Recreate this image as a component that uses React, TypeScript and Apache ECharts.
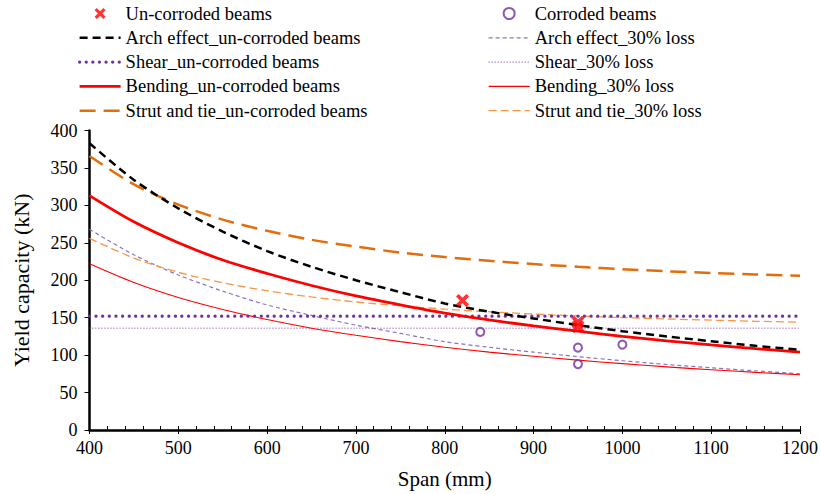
import React, { useEffect, useRef } from "react";
import * as echarts from "echarts";

const spans = [400, 450, 500, 550, 600, 650, 700, 750, 800, 850, 900, 950, 1000, 1050, 1100, 1150, 1200];

const archUncorroded = [383, 334, 296, 265, 239, 218, 200, 184, 169, 158, 149, 140, 132, 125, 118.5, 112.5, 107];
const arch30 = [268, 234, 207, 185.5, 167, 153, 140, 129, 118, 110.5, 104, 98, 92.5, 87.5, 83, 79, 75];
const shearUncorroded = [152, 152, 152, 152, 152, 152, 152, 152, 152, 152, 152, 152, 152, 152, 152, 152, 152];
const shear30 = [136, 136, 136, 136, 136, 136, 136, 136, 136, 136, 136, 136, 136, 136, 136, 136, 136];
const bendingUncorroded = [313, 278, 250, 227, 209, 193, 179, 167, 156, 147, 139, 132, 125, 119, 113.6, 108.7, 104];
const bending30 = [222, 197, 177, 161, 147.5, 136, 126.5, 118, 110.5, 104, 98.5, 93.3, 88.6, 84.3, 80.5, 77, 73.8];
const strutUncorroded = [366, 328, 301, 281, 266, 254, 245, 237, 231, 226, 221.6, 218, 214.8, 212, 209.8, 207.8, 206];
const strut30 = [256, 229.6, 210.6, 196.6, 186, 177.7, 171, 165.8, 161.5, 157.9, 154.9, 152.3, 150.2, 148.3, 146.7, 145.2, 144];

const uncorrodedSpan = [820, 950, 950];
const uncorrodedLoad = [173, 144, 138];
const corrodedSpan = [840, 950, 950, 1000];
const corrodedLoad = [131, 110, 88, 114];

const FONT = "Liberation Serif";
const RED = "#FF0000";
const PURPLE = "#7030A0";
const LPURPLE = "#8A72C0";
const ORANGE = "#E46C0A";
const LORANGE = "#F79646";
const XPATH = "path://M0,2L2,0L5,3L8,0L10,2L7,5L10,8L8,10L5,7L2,10L0,8L3,5Z";

const pair = (xs: number[], ys: number[]) => xs.map((x, i) => [x, ys[i]]);

type LineDef = { name: string; vals: number[]; color: string; width: number; type: any; z: number; cap?: string };

const lineDefs: LineDef[] = [
  { name: "Arch effect_un-corroded beams", vals: archUncorroded, color: "#000", width: 2.5, type: [8, 5], z: 4 },
  { name: "Shear_un-corroded beams", vals: shearUncorroded, color: PURPLE, width: 3.2, type: [0.1, 6.5], z: 3, cap: "round" },
  { name: "Bending_un-corroded beams", vals: bendingUncorroded, color: RED, width: 2.8, type: "solid", z: 3 },
  { name: "Strut and tie_un-corroded beams", vals: strutUncorroded, color: ORANGE, width: 2.5, type: [16, 8], z: 3 },
  { name: "Arch effect_30% loss", vals: arch30, color: LPURPLE, width: 1.2, type: [4, 3], z: 2 },
  { name: "Shear_30% loss", vals: shear30, color: PURPLE, width: 1, type: [1, 2], z: 2 },
  { name: "Bending_30% loss", vals: bending30, color: RED, width: 1.1, type: "solid", z: 2 },
  { name: "Strut and tie_30% loss", vals: strut30, color: LORANGE, width: 1.3, type: [8, 4], z: 2 },
];

const legendItem = (name: string) => {
  const d = lineDefs.find((l) => l.name === name);
  if (!d) return { name };
  return {
    name,
    itemStyle: { opacity: 0 },
    lineStyle: { width: d.width, color: d.color, type: d.type, cap: d.cap || "butt", opacity: 1 },
  };
};

export default function App() {
  const ref = useRef<HTMLDivElement>(null);
  useEffect(() => {
    if (!ref.current) return;
    const chart = echarts.init(ref.current, undefined, { renderer: "svg" });
    const legendCommon = {
      orient: "vertical",
      top: 4,
      padding: 0,
      itemWidth: 41,
      itemHeight: 11,
      itemGap: 5.3,
      textStyle: { fontFamily: FONT, fontSize: 18.5, color: "#000" },
      selectedMode: false,
    };
    const lineSeries = lineDefs.map((d) => ({
      name: d.name,
      type: "line",
      data: pair(spans, d.vals),
      smooth: 0.3,
      symbol: "none",
      showSymbol: false,
      z: d.z,
      lineStyle: { color: d.color, width: d.width, type: d.type, cap: d.cap || "butt" },
      itemStyle: { color: d.color },
    }));
    chart.setOption({
      animation: false,
      backgroundColor: "#fff",
      textStyle: { fontFamily: FONT },
      grid: { left: 89.5, right: 17, top: 130.5, bottom: 63.5, containLabel: false },
      legend: [
        {
          ...legendCommon,
          left: 78,
          data: [
            "Un-corroded beams",
            "Arch effect_un-corroded beams",
            "Shear_un-corroded beams",
            "Bending_un-corroded beams",
            "Strut and tie_un-corroded beams",
          ].map(legendItem),
        },
        {
          ...legendCommon,
          left: 488,
          data: ["Corroded beams", "Arch effect_30% loss", "Shear_30% loss", "Bending_30% loss", "Strut and tie_30% loss"].map(
            legendItem
          ),
        },
      ],
      xAxis: [
        {
          type: "value",
          min: 400,
          max: 1200,
          interval: 100,
          name: "Span (mm)",
          nameLocation: "middle",
          nameGap: 38,
          nameTextStyle: { fontFamily: FONT, fontSize: 21, color: "#000" },
          axisLine: { show: true, lineStyle: { color: "#000", width: 2.5 } },
          axisTick: { show: true, inside: true, length: 4, lineStyle: { color: "#000", width: 1 } },
          minorTick: { show: true, splitNumber: 5, length: 4, lineStyle: { color: "#000", width: 1 } },
          axisLabel: { fontFamily: FONT, fontSize: 18, color: "#000", margin: 9, formatter: (v: number) => String(v) },
          splitLine: { show: false },
        },
        {
          type: "value",
          min: 400,
          max: 1200,
          interval: 100,
          position: "bottom",
          axisLine: { show: false },
          axisTick: { show: true, inside: false, length: 4, lineStyle: { color: "#000", width: 1 } },
          axisLabel: { show: false },
          splitLine: { show: false },
        },
      ],
      yAxis: {
        type: "value",
        min: 0,
        max: 400,
        interval: 50,
        name: "Yield capacity (kN)",
        nameLocation: "middle",
        nameGap: 57,
        nameTextStyle: { fontFamily: FONT, fontSize: 22, color: "#000" },
        axisLine: { show: true, lineStyle: { color: "#000", width: 2.5 } },
        axisTick: { show: true, length: 5, lineStyle: { color: "#000", width: 1 } },
        axisLabel: { fontFamily: FONT, fontSize: 18, color: "#000", margin: 12, formatter: (v: number) => String(v) },
        splitLine: { show: false },
      },
      series: [
        {
          name: "Un-corroded beams",
          type: "scatter",
          data: pair(uncorrodedSpan, uncorrodedLoad),
          symbol: XPATH,
          symbolSize: 13,
          z: 10,
          itemStyle: { color: RED },
        },
        {
          name: "Corroded beams",
          type: "scatter",
          data: pair(corrodedSpan, corrodedLoad),
          symbol: "emptyCircle",
          symbolSize: 8,
          z: 10,
          itemStyle: { color: PURPLE, borderColor: PURPLE, borderWidth: 1 },
        },
        ...lineSeries,
      ],
    });
    return () => chart.dispose();
  }, []);
  return <div ref={ref} style={{ width: 821, height: 494, position: "absolute", left: 0, top: 0 }} />;
}
